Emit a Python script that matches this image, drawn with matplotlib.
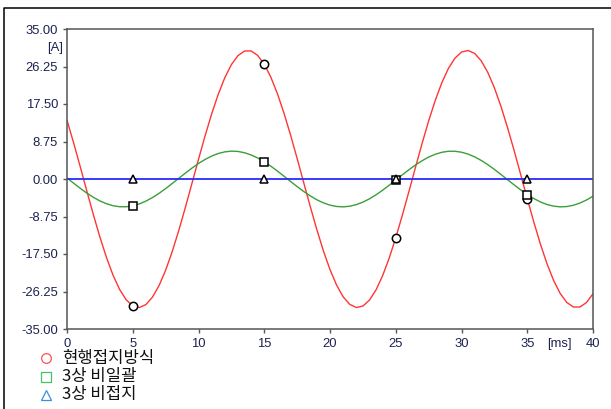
import matplotlib
matplotlib.use("Agg")

import matplotlib.pyplot as plt
import numpy as np
from matplotlib.lines import Line2D

# ── data (0.5 ms steps) ─────────────────────────────────────────────────────
time_ms = np.arange(0, 40.5, 0.5)

current_present = [
    13.71, 8.47, 2.93, -2.72, -8.27, -13.53, -18.30, -22.43, -25.77, -28.19,
    -29.61, -29.99, -29.30, -27.57, -24.87, -21.29, -16.95, -12.01, -6.65, -1.05,
    4.59, 10.06, 15.18, 19.76, 23.64, 26.68, 28.78, 29.86, 29.88, 28.84,
    26.78, 23.77, 19.92, 15.36, 10.26, 4.80, -0.84, -6.44, -11.82, -16.78,
    -21.14, -24.75, -27.49, -29.25, -29.98, -29.65, -28.26, -25.88, -22.57, -18.47,
    -13.71, -8.47, -2.93, 2.72, 8.27, 13.53, 18.30, 22.43, 25.77, 28.19,
    29.61, 29.99, 29.30, 27.57, 24.87, 21.29, 16.95, 12.01, 6.65, 1.05,
    -4.59, -10.06, -15.18, -19.76, -23.64, -26.68, -28.78, -29.86, -29.88, -28.84,
    -26.78,
]

current_3ph_nonbulk = [
    0.25, -0.97, -2.16, -3.27, -4.26, -5.11, -5.77, -6.23, -6.47, -6.48,
    -6.25, -5.81, -5.16, -4.33, -3.35, -2.24, -1.06, 0.16, 1.37, 2.54,
    3.62, 4.56, 5.35, 5.95, 6.33, 6.50, 6.43, 6.13, 5.62, 4.91,
    4.02, 2.99, 1.86, 0.66, -0.57, -1.77, -2.91, -3.95, -4.85, -5.57,
    -6.10, -6.41, -6.50, -6.35, -5.98, -5.40, -4.63, -3.69, -2.62, -1.46,
    -0.25, 0.97, 2.16, 3.27, 4.26, 5.11, 5.77, 6.23, 6.47, 6.48,
    6.25, 5.81, 5.16, 4.33, 3.35, 2.24, 1.06, -0.16, -1.37, -2.54,
    -3.62, -4.56, -5.35, -5.95, -6.33, -6.50, -6.43, -6.13, -5.62, -4.91,
    -4.02,
]

current_3ph_unground = [0.0] * len(time_ms)

marker_times = [5, 15, 25, 35]

series_labels = ["현행접지방식", "3상 비일괄", "3상 비접지"]
y_ticks = [-35.00, -26.25, -17.50, -8.75, 0.00, 8.75, 17.50, 26.25, 35.00]
x_ticks = [0, 5, 10, 15, 20, 25, 30, 35, 40]

# ── style ───────────────────────────────────────────────────────────────────
plt.rcParams.update({
    "font.family": ["Liberation Sans", "DejaVu Sans"],
    "font.size": 9.4,
})
TICK_COLOR = "#1c2250"
LINE_COLORS = ["#ff3535", "#3a9e3a", "#2a2aff"]
LINE_WIDTHS = [1.0, 1.0, 1.3]
LEGEND_COLORS = ["#ff5050", "#45c265", "#3a8ee0"]
MARKERS = ["o", "s", "^"]

fig = plt.figure(figsize=(6.11, 4.09), dpi=100)
ax = fig.add_axes([67 / 611, 1 - 329 / 409, 526 / 611, 300 / 409])

series = [current_present, current_3ph_nonbulk, current_3ph_unground]
for vals, col, lw, mk in zip(series, LINE_COLORS, LINE_WIDTHS, MARKERS):
    vals = np.asarray(vals)
    ax.plot(time_ms, vals, color=col, lw=lw, zorder=2)
    idx = [int(np.argmin(np.abs(time_ms - t))) for t in marker_times]
    ax.plot(time_ms[idx], vals[idx], ls="none", marker=mk, ms=6.0,
            mfc="white", mec="black", mew=1.1, zorder=3)

ax.set_xlim(0, 40)
ax.set_ylim(-35, 35)
ax.set_xticks(x_ticks)
ax.set_yticks(y_ticks)
ax.set_yticklabels([f"{v:.2f}" for v in y_ticks])
ax.tick_params(direction="out", length=3, width=1.0, colors="#555555",
               labelcolor=TICK_COLOR, pad=3.5)
for sp in ax.spines.values():
    sp.set_color("#555555")
    sp.set_linewidth(1.1)

# unit labels
fig.text(63 / 611, 1 - 48 / 409, "[A]", ha="right", va="center", color=TICK_COLOR)
fig.text(559 / 611, 1 - 344 / 409, "[ms]", ha="center", va="center", color=TICK_COLOR)

# ── legend (below the plot) ─────────────────────────────────────────────────
legend_rows = [358, 377, 395]
for lab, col, mk, ypx in zip(series_labels, LEGEND_COLORS, MARKERS, legend_rows):
    fig.add_artist(Line2D([46 / 611], [1 - ypx / 409], transform=fig.transFigure,
                          marker=mk, ms=7, mfc="none", mec=col, mew=0.9, ls="none"))
    fig.text(62 / 611, 1 - ypx / 409, lab, ha="left", va="center",
             family=["Noto Sans CJK KR", "DejaVu Sans"], fontsize=12, color="#111111")

# outer frame (clipped at right and bottom)
fig.add_artist(Line2D([4 / 611, 4 / 611, 1.0], [0.0, 1 - 8 / 409, 1 - 8 / 409],
                      transform=fig.transFigure, color="black", lw=1.1))

fig.savefig("out.png", dpi=100)
